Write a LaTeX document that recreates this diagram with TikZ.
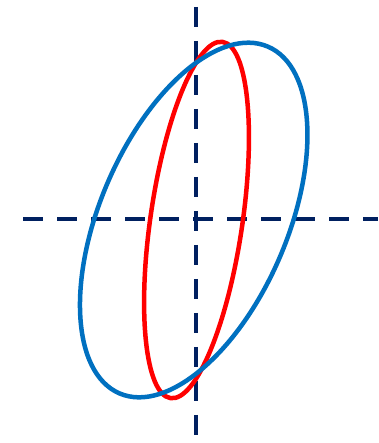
\documentclass[tikz,border=0pt]{standalone}
\usepackage{tikz}
\definecolor{axisNavy}{RGB}{0, 32, 96}
\definecolor{loopBlue}{RGB}{0, 112, 192}
\definecolor{loopRed}{RGB}{255, 0, 0}

\begin{document}
\begin{tikzpicture}[
  x=1pt, y=1pt,
  axis/.style={
    axisNavy,
    line width=4pt,
    dash pattern=on 20pt off 14pt
  },
  loop/.style={line width=4.5pt}
]
  \useasboundingbox (0,0) rectangle (378,443);
  \fill[white] (0,0) rectangle (378,443);

  % axes
  \coordinate (origin) at (196,224);
  \coordinate (top) at (196,436);
  \coordinate (bottom) at (196,0);
  \coordinate (left) at (23,224);
  \coordinate (right) at (378,224);
  \draw[axis] (top) -- (bottom);
  \draw[axis] (left) -- (right);

  % narrow loop
  \coordinate (redCentre) at (196.5,223);
  \draw[loop,loopRed,rotate around={81.7:(redCentre)}]
    (redCentre) ellipse [x radius=180pt, y radius=46pt];

  % wide loop
  \coordinate (blueCentre) at (193.7,223);
  \draw[loop,loopBlue,rotate around={66.85:(blueCentre)}]
    (blueCentre) ellipse [x radius=188.6pt, y radius=93.8pt];
\end{tikzpicture}
\end{document}
